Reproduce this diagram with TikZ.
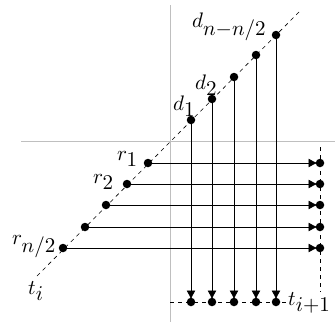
\documentclass[tikz,border=0pt]{standalone}
\usepackage{graphicx}
\usetikzlibrary{arrows.meta}
\newcommand{\lbl}[1]{\scalebox{2.1}{$#1$}}
\begin{document}
\begin{tikzpicture}[x=1pt,y=-1pt,
  dotnode/.style={circle,fill=black,inner sep=0pt,minimum size=8.5pt},
  txt/.style={inner sep=0pt,anchor=base west},
  axis/.style={draw=black!25,line width=0.9pt},
  guide/.style={dash pattern=on 4pt off 4pt,line width=0.6pt},
  arr/.style={line width=0.8pt,-{Latex[length=9pt,width=9pt]},shorten >=2.5pt}]
\useasboundingbox (0,0) rectangle (335,327);
% gray axes
\coordinate (vt) at (170,5);
\coordinate (vb) at (170,322);
\coordinate (hl) at (21,141);
\coordinate (hr) at (335,141);
\draw[axis] (vt) -- (vb);
\draw[axis] (hl) -- (hr);
% labels
\node[txt] (ti) at (28,294) {\lbl{t_{\textstyle i}}};
\node[txt] (tip) at (288,305) {\lbl{t_{\textstyle i{+}1}}};
% guides
\coordinate (dtop) at (300,11);
\coordinate (dbot) at (37,276);
\coordinate (rtop) at (320,147);
\coordinate (rbot) at (320,292);
\coordinate (bl) at (170,302);
\coordinate (br) at (286,302);
\draw[guide] (dbot) -- (dtop);
\draw[guide] (rtop) -- (rbot);
\draw[guide] (bl) -- (br);
% r dots
\foreach \i/\x/\y in {1/148/163,2/127/184,3/106/205,4/85/227,5/63/248}{
  \node[dotnode] (r\i) at (\x,\y) {};
  \node[dotnode] (er\i) at (320,\y) {};
  \draw[arr] (r\i) -- (er\i.center);
}
% d dots
\foreach \i/\x/\y in {1/191/120,2/212/99,3/234/77,4/256/55,5/276/35}{
  \node[dotnode] (d\i) at (\x,\y) {};
  \node[dotnode] (ed\i) at (\x,302) {};
  \draw[arr] (d\i) -- (ed\i.center);
}
\node[txt] (ld1) at (173,110) {\lbl{d_{\textstyle 1}}};
\node[txt] (ld2) at (195,89) {\lbl{d_{\textstyle 2}}};
\node[txt] (ldn) at (192,27) {\lbl{d_{\textstyle n{-}n/2}}};
\node[txt] (lr1) at (117,160.5) {\lbl{r_{\textstyle 1}}};
\node[txt] (lr2) at (93,183) {\lbl{r_{\textstyle 2}}};
\node[txt] (lrn) at (12,244) {\lbl{r_{\textstyle n/2}}};
\end{tikzpicture}
\end{document}
